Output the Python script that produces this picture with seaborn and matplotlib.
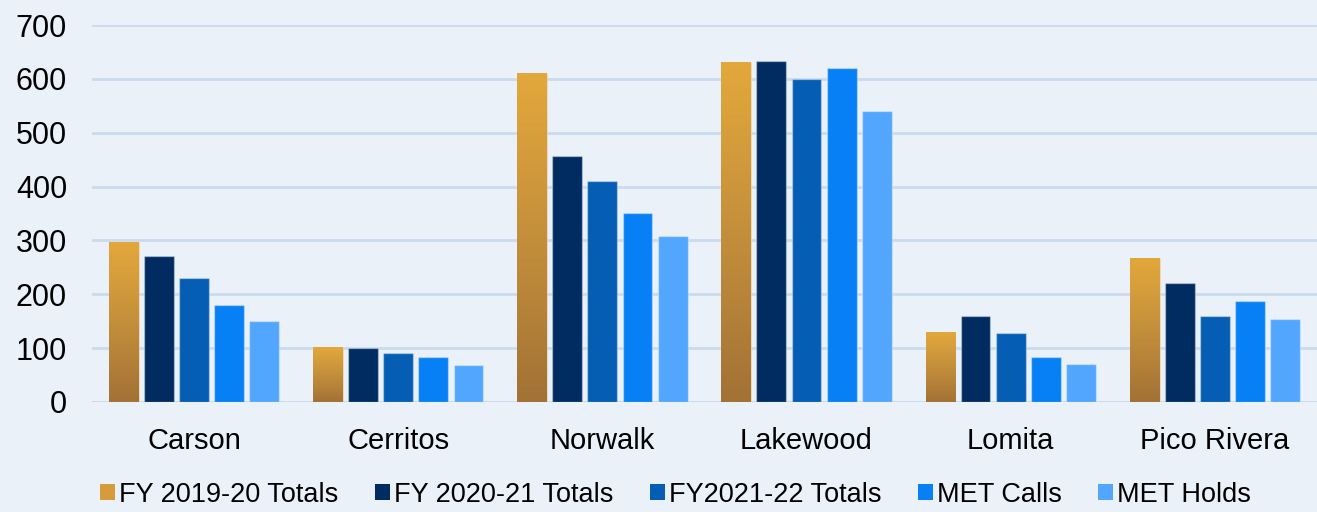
import numpy as np
import pandas as pd
import matplotlib.pyplot as plt
import seaborn as sns
from matplotlib.colors import LinearSegmentedColormap
from matplotlib.patches import Patch

cities = ["Carson", "Cerritos", "Norwalk", "Lakewood", "Lomita", "Pico Rivera"]
series = ["FY 2019-20 Totals", "FY 2020-21 Totals", "FY2021-22 Totals", "MET Calls", "MET Holds"]
fy1920 = [297, 102, 611, 631, 130, 267]
fy2021 = [271, 100, 457, 633, 160, 221]
fy2122 = [230, 91, 410, 600, 128, 160]
met_calls = [180, 83, 351, 620, 84, 188]
met_holds = [150, 69, 308, 540, 71, 154]

colors = ["#D69C3C", "#012C62", "#055DB4", "#0780F6", "#52A6FD"]
bg = "#EAF1F9"

rows = []
for name, vals in zip(series, [fy1920, fy2021, fy2122, met_calls, met_holds]):
    for c, v in zip(cities, vals):
        rows.append({"city": c, "series": name, "value": v})
df = pd.DataFrame(rows)

sns.set_style("white")
plt.rcParams["font.family"] = ["Liberation Sans", "DejaVu Sans"]
plt.rcParams["text.color"] = "black"
plt.rcParams["xtick.color"] = "black"
plt.rcParams["ytick.color"] = "black"

fig = plt.figure(figsize=(13.17, 5.12), dpi=100, facecolor=bg)
ax = fig.add_axes([0.0699, 0.215, 0.93, 0.736])
ax.set_facecolor(bg)

sns.barplot(data=df, x="city", y="value", hue="series", palette=colors,
            saturation=1, width=0.86, gap=0.15, ax=ax, legend=False,
            edgecolor=(1, 1, 1, 0.35), linewidth=1)

# gold gradient on first series
cmap = LinearSegmentedColormap.from_list("gold", ["#A27236", "#C48F3B", "#E3A83C"])
grad = np.linspace(0, 1, 256).reshape(-1, 1)
for p in ax.containers[0]:
    x0, y0 = p.get_x(), p.get_y()
    w, h = p.get_width(), p.get_height()
    im = ax.imshow(grad, cmap=cmap, aspect="auto", origin="lower",
                   extent=[x0, x0 + w, y0, y0 + h], zorder=p.get_zorder())
    im.set_clip_path(p)

ax.set_xlim(-0.5, 5.5)
ax.set_ylim(0, 700)
ax.set_yticks(range(0, 701, 100))
ax.yaxis.grid(True, color="#CADBEE", linewidth=2)
ax.set_axisbelow(True)
for s in ax.spines.values():
    s.set_visible(False)
ax.axhline(0, color="#D3DEEA", linewidth=2, zorder=0.5)
ax.tick_params(axis="y", labelsize=22, length=0, pad=18)
ax.tick_params(axis="x", labelsize=21, length=0, pad=18)
ax.set_xlabel("")
ax.set_ylabel("")

# legend squares carry the mid colour of each series
handles = [Patch(facecolor=c, edgecolor="none") for c in colors]
fig.legend(handles, series, loc="center", bbox_to_anchor=(0.513, 0.034), ncol=5,
           frameon=False, fontsize=19.5, handlelength=0.55, handleheight=0.55,
           handletextpad=0.15, columnspacing=1.35)

fig.savefig("out.png", dpi=100, facecolor=bg)
